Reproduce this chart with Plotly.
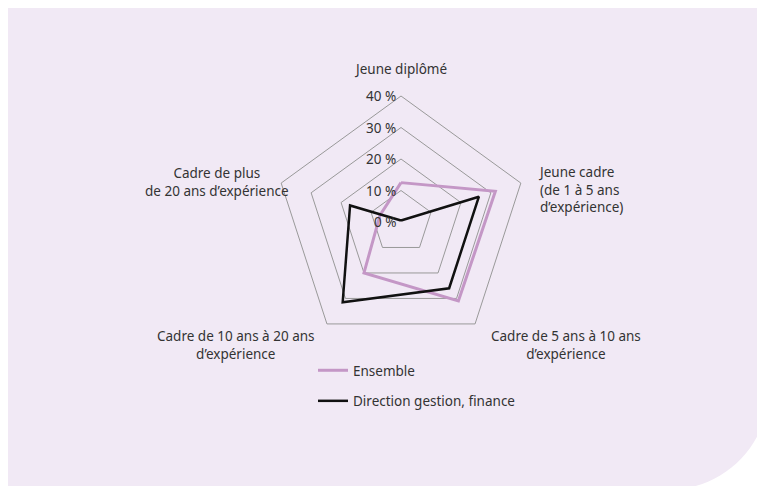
# radar chart - profils d'expérience

import plotly.graph_objects as go

W, H = 765, 486

# Data
categories = ["Jeune diplômé",
              "Jeune cadre (de 1 à 5 ans d’expérience)",
              "Cadre de 5 ans à 10 ans d’expérience",
              "Cadre de 10 ans à 20 ans d’expérience",
              "Cadre de plus de 20 ans d’expérience"]
ensemble = [12.5, 31.5, 31, 20, 7]
direction = [0.5, 26, 26, 31.5, 17]
radial_ticks = [0, 10, 20, 30, 40]

# labels drawn around the web: (text, x px, y px, align)
labels = [
    ("Jeune diplômé", 393, 61, "center"),
    ("Jeune cadre<br>(de 1 à 5 ans<br>d’expérience)", 528, 181, "left"),
    ("Cadre de 5 ans à 10 ans<br>d’expérience", 558, 337, "center"),
    ("Cadre de 10 ans à 20 ans<br>d’expérience", 228, 337, "center"),
    ("Cadre de plus<br>de 20 ans d’expérience", 209, 174, "center"),
]

font = "Noto Sans"
fs = 13.5
txt_col = "#333333"


def px(x, y):
    # pixel position -> paper coords
    return x / W, 1 - y / H


fig = go.Figure()

fig.add_trace(go.Scatterpolar(
    r=ensemble + ensemble[:1], theta=categories + categories[:1],
    mode="lines", name="Ensemble", legendgroup="a",
    line=dict(color="#C497C6", width=3)))
fig.add_trace(go.Scatterpolar(
    r=direction + direction[:1], theta=categories + categories[:1],
    mode="lines", name="Direction gestion, finance", legendgroup="b",
    line=dict(color="#111111", width=2.5)))

# background panel with a big rounded bottom-right corner
R, k = 101, 101 * 0.5523
right, bottom, ccx, ccy = 761, 482, 660, 381
pts = [px(0, 0), px(right, 0), px(right, ccy), px(right, ccy + k),
       px(ccx + k, bottom), px(ccx, bottom), px(0, bottom)]
panel = "M %f,%f L %f,%f L %f,%f C %f,%f %f,%f %f,%f L %f,%f Z" % tuple(
    v for p in pts for v in p)

cx, cy, rad = 393, 214, 126
fig.update_layout(
    width=W, height=H,
    margin=dict(l=0, r=0, t=0, b=0),
    paper_bgcolor="white",
    font=dict(family=font, size=fs, color=txt_col),
    polar=dict(
        domain=dict(x=[(cx - rad) / W, (cx + rad) / W],
                    y=[1 - (cy + rad) / H, 1 - (cy - rad) / H]),
        bgcolor="rgba(0,0,0,0)",
        gridshape="linear",
        radialaxis=dict(range=[0, 40], tickvals=radial_ticks, angle=90,
                        showticklabels=False, showline=False, ticks="",
                        gridcolor="#999999", gridwidth=1),
        angularaxis=dict(direction="clockwise", rotation=90, showgrid=False,
                         showticklabels=False, ticks="", showline=True,
                         linecolor="#999999", linewidth=1),
    ),
    legend=dict(x=305 / W, y=1 - 347 / H, xanchor="left", yanchor="top",
                bgcolor="rgba(0,0,0,0)", traceorder="grouped",
                tracegroupgap=10, font=dict(size=fs, color=txt_col)),
    shapes=[dict(type="path", xref="paper", yref="paper", layer="below",
                 path=panel, fillcolor="#F1E9F5", line=dict(width=0))],
)

# radial tick labels, left of the vertical axis
for t in radial_ticks:
    fig.add_annotation(text="%d %%" % t, x=(cx - 3) / W,
                       y=1 - (cy - rad * t / 40) / H, xref="paper", yref="paper",
                       showarrow=False, xanchor="right", yanchor="middle",
                       font=dict(size=fs, color=txt_col))

for text, x, y, al in labels:
    fig.add_annotation(text=text, x=x / W, y=1 - y / H, xref="paper", yref="paper",
                       showarrow=False, align=al,
                       xanchor="left" if al == "left" else "center",
                       yanchor="middle", font=dict(size=fs, color=txt_col))

fig.write_html("out.html")
